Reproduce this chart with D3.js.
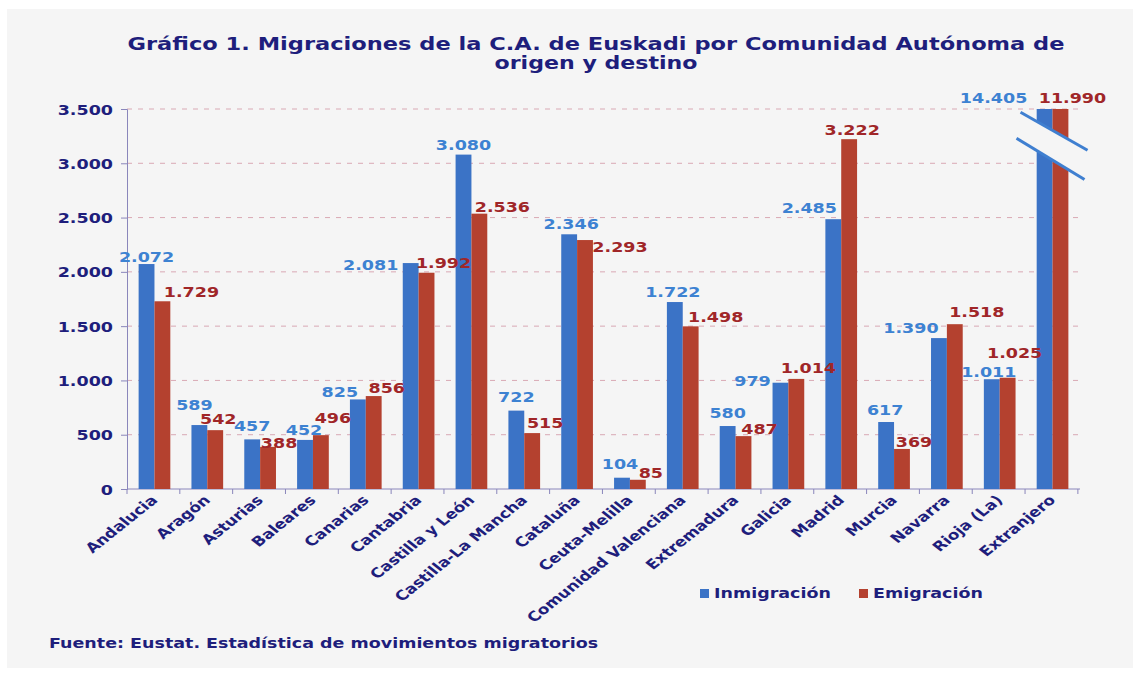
<!DOCTYPE html>
<html><head><meta charset="utf-8">
<script src="https://cdn.jsdelivr.net/npm/d3@7"></script>
<style>
html,body{margin:0;padding:0;background:#fff;}
svg{display:block;font-family:"DejaVu Sans",Verdana,sans-serif;font-weight:bold;}
</style></head>
<body>
<svg id="chart" width="1140" height="677"></svg>
<script>
// ---- data ----
const categories = ["Andalucia","Aragón","Asturias","Baleares","Canarias","Cantabria","Castilla y León","Castilla-La Mancha","Cataluña","Ceuta-Melilla","Comunidad Valenciana","Extremadura","Galicia","Madrid","Murcia","Navarra","Rioja (La)","Extranjero"];
const seriesNames = ["Inmigración","Emigración"];
const inmigracion = [2072,589,457,452,825,2081,3080,722,2346,104,1722,580,979,2485,617,1390,1011,14405];
const emigracion  = [1729,542,388,496,856,1992,2536,515,2293,85,1498,487,1014,3222,369,1518,1025,11990];
const yTicks = [0,500,1000,1500,2000,2500,3000,3500];
const titleLines = ["Gráfico 1. Migraciones  de la C.A. de Euskadi por Comunidad Autónoma de","origen y destino"];
const sourceText = "Fuente: Eustat. Estadística de movimientos migratorios";
// label nudges [dx, dy] relative to a label centred above its bar
const inmigLabelNudge = [[0,2],[-5,-11],[0,-4],[-1,-1],[-18,2],[-40,11],[0,-1],[0,-5],[2,-1],[-2,-5],[-2,-1],[0,-4],[-28,7],[-24,-2],[-1,-3],[-28,-1],[-3,2],[-51,-2]];
const emigLabelNudge  = [[29,0],[3,-2],[11,5],[12,-8],[13,1],[17,-1],[23,2],[13,-1],[35,16],[13,2],[25,0],[16,2],[12,-2],[3,0],[12,2],[22,-3],[7,-16],[12,-2]];

// ---- setup ----
const SX = 1.25; // horizontal stretch of the original image
const navy = "#1e1e7c", blue = "#3b73c6", red = "#b4412f", blueTxt = "#3d82d2", redTxt = "#a02628";
const svg = d3.select("#chart");
const loc = d3.formatLocale({decimal:",", thousands:".", grouping:[3], currency:["","€"]});
const fmt = loc.format(",d");

svg.append("rect").attr("x",7).attr("y",9).attr("width",1126).attr("height",659).attr("fill","#f5f5f5");

const pLeft = 127, pRight = 1080, pTop = 109, pBottom = 489;
const yMax = 3500;
const y = d3.scaleLinear().domain([0,yMax]).range([pBottom,pTop]);
const x = d3.scaleBand().domain(categories).range([pLeft,pRight]).paddingInner(0.4).paddingOuter(0.22);
const x1 = d3.scaleBand().domain(seriesNames).range([0,x.bandwidth()]);
const step = x.step();

// title
svg.selectAll(".title").data(titleLines).join("text").attr("class","title")
  .attr("x",596).attr("y",(d,i)=>50+i*19)
  .attr("text-anchor","middle").attr("fill",navy).attr("font-size",17)
  .attr("textLength",(d,i)=>i===0?937:203).attr("lengthAdjust","spacingAndGlyphs")
  .text(d=>d);

// gridlines
svg.append("g").selectAll("line").data(yTicks.filter(d=>d>0)).join("line")
  .attr("x1",pLeft).attr("x2",pRight).attr("y1",d=>y(d)).attr("y2",d=>y(d))
  .attr("stroke","#d9a9b4").attr("stroke-width",1).attr("stroke-dasharray","5,6");

// y axis
const yAxis = svg.append("g").attr("transform",`translate(${pLeft},0)`)
  .call(d3.axisLeft(y).tickValues(yTicks).tickFormat(fmt).tickSize(6).tickPadding(0));
yAxis.select(".domain").attr("stroke","#8a86bb");
yAxis.selectAll(".tick line").attr("stroke","#8a86bb");
yAxis.selectAll(".tick text").attr("fill",navy).attr("font-size",14).attr("font-family","DejaVu Sans").attr("font-weight","bold")
  .attr("x",null).attr("dy",null).attr("text-anchor","end")
  .attr("transform",`translate(-14,5) scale(${SX},1)`);

// x axis
svg.append("line").attr("x1",pLeft).attr("x2",pRight).attr("y1",pBottom).attr("y2",pBottom).attr("stroke","#8a86bb");
svg.append("g").selectAll("line").data(d3.range(categories.length+1)).join("line")
  .attr("x1",i=>pLeft+i*step).attr("x2",i=>pLeft+i*step)
  .attr("y1",pBottom).attr("y2",pBottom+5).attr("stroke","#8a86bb");

// x labels
svg.append("g").selectAll("text").data(categories).join("text")
  .attr("text-anchor","end").attr("fill",navy).attr("font-size",13.5)
  .attr("transform",d=>`translate(${x(d)+x.bandwidth()/2+4},${pBottom+12}) scale(${SX},1) rotate(-45)`)
  .text(d=>d);

// bars
const rows = categories.map((c,i)=>({c,i,vals:[inmigracion[i],emigracion[i]]}));
const colors = [blue, red];
const g = svg.append("g").selectAll("g").data(rows).join("g").attr("transform",d=>`translate(${x(d.c)},0)`);
g.selectAll("rect").data(d=>d.vals.map((v,k)=>({v,k}))).join("rect")
  .attr("x",d=>x1(seriesNames[d.k])).attr("width",x1.bandwidth())
  .attr("y",d=>y(Math.min(d.v,yMax))).attr("height",d=>pBottom-y(Math.min(d.v,yMax)))
  .attr("fill",d=>colors[d.k]);

// axis break for Extranjero
const ex = x("Extranjero")+x.bandwidth()/2;
const b1 = [[ex-32,y(3470)],[ex+35,y(3120)]];
const b2 = [[ex-36,y(3230)],[ex+32,y(2850)]];
svg.append("path").attr("d",`M${b1[0][0]},${b1[0][1]}L${b1[1][0]},${b1[1][1]}L${b2[1][0]},${b2[1][1]}L${b2[0][0]},${b2[0][1]}Z`)
  .attr("fill","#f5f5f5");
[b1,b2].forEach(b=>svg.append("line").attr("x1",b[0][0]).attr("y1",b[0][1]).attr("x2",b[1][0]).attr("y2",b[1][1])
  .attr("stroke","#3f7fd0").attr("stroke-width",3));

// value labels (top layer)
const nudges = [inmigLabelNudge, emigLabelNudge];
const txtColors = [blueTxt, redTxt];
const labelData = [];
rows.forEach(r=>r.vals.forEach((v,k)=>labelData.push({v,k,i:r.i,c:r.c})));
svg.append("g").selectAll("text").data(labelData).join("text")
  .attr("text-anchor","middle").attr("font-size",14).attr("fill",d=>txtColors[d.k])
  .attr("transform",d=>{
    const cx = x(d.c)+x1(seriesNames[d.k])+x1.bandwidth()/2 + nudges[d.k][d.i][0];
    const cy = y(Math.min(d.v,yMax)) - 4 + nudges[d.k][d.i][1];
    return `translate(${cx},${cy}) scale(${SX},1)`;})
  .text(d=>fmt(d.v));

// legend
const leg = svg.append("g");
const legX = [700, 859];
seriesNames.forEach((s,k)=>{
  leg.append("rect").attr("x",legX[k]).attr("y",589).attr("width",9).attr("height",9).attr("fill",colors[k]);
  leg.append("text").attr("transform",`translate(${legX[k]+14},598) scale(${SX},1)`)
    .attr("fill",navy).attr("font-size",14).text(s);
});

// source
svg.append("text").attr("transform",`translate(49,648) scale(${SX},1)`)
  .attr("fill",navy).attr("font-size",14).text(sourceText);
</script>
</body></html>
